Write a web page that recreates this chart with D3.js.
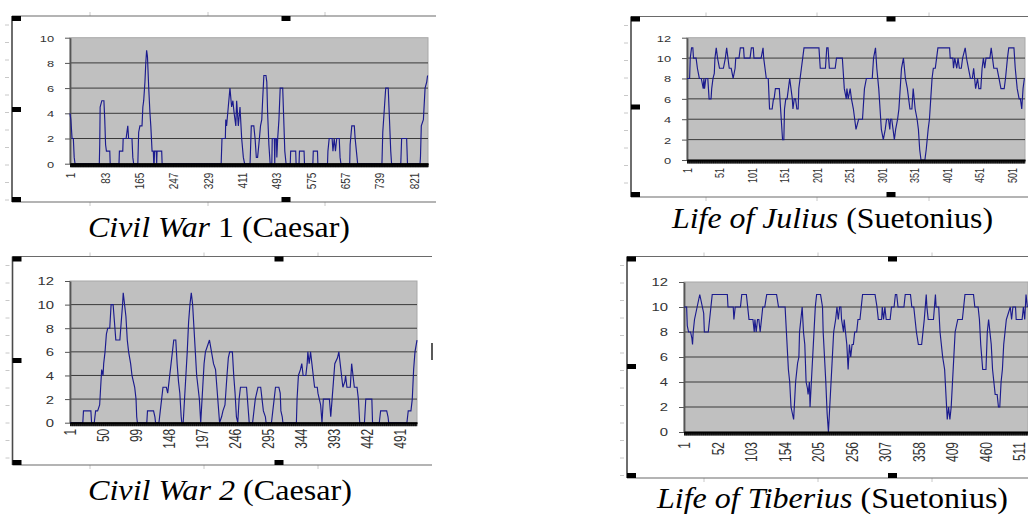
<html>
<head><script src="https://d3js.org/d3.v7.min.js"></script></head>
<body style="margin:0">
<script>
// ---- data (x = passage index, y = value) ----
var civilWar1X = [1,3,6,9,11,13,71,72,73,77,82,84,86,88,96,97,118,119,127,128,135,137,139,141,149,151,153,
  163,165,168,173,175,177,180,182,184,186,189,192,194,197,200,201,202,203,207,208,209,220,221,
  362,364,372,373,375,379,383,387,390,393,397,399,403,407,411,415,418,
  431,434,440,443,446,449,452,456,459,461,464,469,471,473,476,479,
  483,484,489,490,491,494,495,497,500,503,509,511,514,517,
  527,528,540,541,548,549,560,561,581,582,592,593,
  616,617,620,627,629,632,635,638,644,646,648,669,670,674,680,682,685,688,
  746,748,752,755,761,764,767,769,791,793,805,807,837,838,840,845,849,853,855];
var civilWar1Y = [4,3.5,2,2,0.5,0,0,1.5,4.5,5,5,3.5,1.5,1,1,0,0,1,1,2,2,2.5,3,2,2,0.5,0,
  0,2.5,3,3,4.5,5,6.5,8,9,8.5,6,4,3,1,1,0,0,1,1,0,1,1,0,
  0,2,2,3.5,3,4.5,6,4.5,5,4,3,5,3,4.5,2,0.5,0,
  0,3,3,2,0.5,0.5,1.5,3,3.5,5,7,7,6.5,4,1.5,0,
  0,2,2,0,2,2,0.5,2,3.5,6,6,4,1,0,
  0,1,1,0,0,1,1,0,0,1,1,0,
  0,1,2,2,1,2,1,2,2,0.5,0,0,1.5,3,3,2,1,0,
  0,2.5,4.5,6,6,3.5,1,0,0,2,2,0,0,0.5,3,3.5,6,6.5,7];
var civilWar1Ticks = [1,83,165,247,329,411,493,575,657,739,821];
var civilWar1YTicks = [0,2,4,6,8,10];

var juliusX = [1,5,6,8,10,11,15,17,20,23,26,27,28,30,33,34,35,38,39,41,43,44,46,48,51,57,60,62,64,66,69,72,75,76,
  81,83,88,89,98,100,103,104,115,118,119,121,123,126,128,132,134,135,137,143,144,146,148,150,151,153,155,157,159,
  161,163,164,166,168,170,172,173,175,177,179,181,204,206,214,216,218,220,229,231,240,241,243,246,247,249,252,254,
  257,259,261,263,265,271,273,274,277,286,288,291,293,296,298,300,303,306,308,311,313,314,316,318,320,322,325,327,
  329,331,334,337,340,342,344,347,349,352,355,357,359,361,367,369,372,374,376,378,380,383,385,387,405,406,410,411,
  413,416,418,420,423,425,429,431,434,437,440,442,445,448,450,453,455,457,459,461,467,469,471,473,478,481,484,489,
  491,494,496,504,506,509,512,514,516,518,520];
var juliusY = [8,8,10,11,11,10,10,9,8,8,7,8,7,8,8,7,6,6,7,8,8.5,10,11,10,9,9,10,11,10,9,9,8,9,10,
  10,11,11,10,10,11,11,10,10,11,10,9,8,8,5,5,6,6,7,7,6,4,2,2,5,6,6,7,8,
  7,6,5,6,6,5,5,7,8,9,10,11,11,9,9,11,11,9,9,10,10,9,7,6,7,6,7,6,
  5,4,3,3.5,4,4,6,7,8,8,10,11,9,7,5,3,2,3,4,4,3,4,4,3,2,3,4,5,
  7,9,10,8,7,6,5,5,7,5,4,3,1,0,0,1,3,4,6,8,9,9,10,11,11,10,10,9,
  10,9,10,9,9,10,11,10,9,8,8,9,7,8,7,7,9,10,9,10,10,11,10,9,9,8,7,7,
  8,10,11,11,9,7,6,6,5,7,8];
var juliusTicks = [1,51,101,151,201,251,301,351,401,451,501];
var juliusYTicks = [0,2,4,6,8,10,12];

var civilWar2X = [1,20,21,32,33,37,39,42,45,46,48,50,51,53,55,57,60,62,65,67,69,75,77,79,80,82,84,86,88,91,93,95,97,99,100,101,
  115,116,125,127,128,133,135,137,139,144,146,148,151,153,155,158,160,162,164,166,167,169,171,173,175,177,179,181,183,
  185,187,189,191,193,195,196,198,200,202,205,208,211,214,217,219,221,223,226,228,231,234,236,238,242,244,246,248,250,
  252,254,263,265,267,272,274,276,278,280,284,286,288,291,292,300,302,304,306,311,313,314,316,317,
  337,338,340,343,345,347,351,353,354,356,358,360,362,364,368,369,371,373,375,377,386,388,390,392,394,398,400,402,404,
  406,409,410,412,417,419,421,423,427,429,431,438,440,449,450,460,462,471,473,474,501,503,507,509,511,513,516];
var civilWar2Y = [0,0,1,1,0,0,1,1,1.5,2.5,4.5,4,5,6,7.5,8,8,10,10,8.5,7,7,8.5,10,11,10,9,7,6,5,4,3.5,3,2,0.5,0,
  0,1,1,0.5,0,0,1,2,3,3,2.5,3.5,5,6,7,7,5,3.5,2.5,0.5,0,0,2,4,6,8.5,10,11,10,
  8,6,4,3,2,0,1,3,5,6,6.5,7,6,5,4.5,3,1.5,0,0.5,1,1.5,4,5.5,6,6,4,2.5,0.5,0,
  2,3,3,1.5,0,0,1,2,2.5,3,3,2,1,0.5,0,0,1,2,3,3,2.5,1,0.5,0,
  0,2,4,4.5,5,4,4,5,6,5,6,5,4,3,3,2.5,2,1.5,0,2,2,0.5,2,3.5,5,5.5,6,5,4,
  3,3.5,4,3,3,5,4,3,3,2,0,0,2,2,0,0,1,1,0.5,0,0,1,1,2,4.5,6,7];
var civilWar2Ticks = [1,50,99,148,197,246,295,344,393,442,491];
var civilWar2YTicks = [0,2,4,6,8,10,12];

var tiberiusX = [1,5,6,8,11,13,14,15,17,19,21,23,25,27,29,31,32,38,40,42,44,67,68,76,77,79,87,89,96,98,100,106,108,109,111,
  113,115,117,119,121,124,127,142,145,155,156,158,160,162,164,166,168,169,171,174,176,177,179,181,183,185,187,189,190,
  192,193,195,197,199,201,203,209,212,213,215,217,219,221,223,225,227,229,232,234,236,238,240,241,244,245,247,249,251,
  253,255,257,259,261,264,266,269,271,273,292,295,297,302,303,305,307,309,315,317,321,323,325,327,336,338,346,348,351,
  353,355,358,363,365,367,370,371,373,381,384,385,389,391,393,395,398,400,402,404,406,408,410,412,414,416,418,425,427,
  429,442,444,449,451,453,456,461,463,465,467,469,471,473,475,478,480,482,484,486,488,490,492,498,500,502,506,507,516,
  518,520,522,524];
var tiberiusY = [10,10,8.5,8,8,7.5,7,8,9,9.5,10,10.5,11,10.5,10,9.5,8,8,9,10,11,11,10,10,9,10,10,11,11,10,9,9,8,9,8,
  9,9,8,9,10,10,11,11,10,10,9,7,5,4,2,1.5,1,2,4,5.5,6,8,9,10,8,7,4,3.5,3,
  4,2,4,6,8,10,11,11,10,8,6,4,1.5,0,2,4,6,8,9,10,9,10,10,9,8,9,8,7,5,
  7,6,7,7,8,8,9,9,10,11,11,10,9,9,10,9,10,9,9,10,10,11,11,10,10,11,11,10,10,
  9,8,7,7,8,9,11,10,9,9,11,10,10,8,7,6,5,3,1,2,1,2,4,6,8,8.5,9,9,10,
  11,11,10,10,9,7,5,5,8,9,8,7,5,4,3,3,2,2,4,5,7,8,9,10,9,10,10,9,9,
  10,9,11,10];
var tiberiusTicks = [1,52,103,154,205,256,307,358,409,460,511];
var tiberiusYTicks = [0,2,4,6,8,10,12];

// ---- panel layout ----
var panels = [
  { xs: civilWar1X, ys: civilWar1Y, ticks: civilWar1Ticks, yTicks: civilWar1YTicks, n: 856,
    left: 70, right: 428, top: 37.7, bottom: 163.7, xFont: 10, yFont: 9.5, xOff: 9,
    frame: { x: 12, top: 16, bottom: 202, right: 436, midX: 286, midY: 109.5 },
    grid: [90, 208, 325],
    caption: { cx: 219, y: 236.5, w: 262, it: 'Civil War', rest: ' 1 (Caesar)' } },
  { xs: juliusX, ys: juliusY, ticks: juliusTicks, yTicks: juliusYTicks, n: 521,
    left: 687, right: 1025, top: 37.7, bottom: 160, xFont: 9, yFont: 9.5, xOff: 8,
    frame: { x: 631, top: 16.5, bottom: 197, right: 1028, midX: 891, midY: 107 },
    grid: [706, 817, 929],
    caption: { cx: 832.5, y: 227.5, w: 321, it: 'Life of Julius', rest: ' (Suetonius)' } },
  { xs: civilWar2X, ys: civilWar2Y, ticks: civilWar2Ticks, yTicks: civilWar2YTicks, n: 516,
    left: 70, right: 417, top: 281, bottom: 422.7, xFont: 12, yFont: 11, xOff: 6,
    frame: { x: 12.5, top: 256.5, bottom: 465, right: 432, midX: 279, midY: 360.5 },
    grid: [90, 204, 318],
    caption: { cx: 220, y: 500, w: 264, it: 'Civil War 2', rest: ' (Caesar)' } },
  { xs: tiberiusX, ys: tiberiusY, ticks: tiberiusTicks, yTicks: tiberiusYTicks, n: 525,
    left: 684, right: 1028, top: 282, bottom: 432, xFont: 12, yFont: 11, xOff: 10,
    frame: { x: 627, top: 256.5, bottom: 478, right: 1028, midX: 892.5, midY: 366.5 },
    grid: [704, 818, 932],
    caption: { cx: 832.5, y: 508, w: 351, it: 'Life of Tiberius', rest: ' (Suetonius)' } }
];

var svg = d3.select('body')
  .append('svg')
  .attr('width', 1028)
  .attr('height', 517);

svg.append('rect').attr('width', 1028).attr('height', 517).attr('fill', '#fff');

panels.forEach(function (p) {
  var g = svg.append('g');
  var f = p.frame;
  var yMax = d3.max(p.yTicks);

  var x = d3.scaleLinear().domain([1, p.n]).range([p.left, p.right]);
  var y = d3.scaleLinear().domain([0, yMax]).range([p.bottom, p.top]);

  // faint page grid marks
  p.grid.forEach(function (gx) {
    g.append('line').attr('x1', gx).attr('x2', gx).attr('y1', f.top - 4).attr('y2', f.top)
      .attr('stroke', '#c8c8c8');
    g.append('line').attr('x1', gx).attr('x2', gx).attr('y1', f.bottom).attr('y2', f.bottom + 4)
      .attr('stroke', '#c8c8c8');
  });
  d3.range(f.top + 9, f.bottom, 17.5).forEach(function (gy) {
    g.append('line').attr('x1', f.x - 7).attr('x2', f.x - 3).attr('y1', gy).attr('y2', gy)
      .attr('stroke', '#c8c8c8');
  });

  // object frame
  g.append('line').attr('x1', f.x).attr('x2', f.right).attr('y1', f.top).attr('y2', f.top)
    .attr('stroke', '#6a6a6a').attr('stroke-width', 1.2);
  g.append('line').attr('x1', f.x).attr('x2', f.right).attr('y1', f.bottom).attr('y2', f.bottom)
    .attr('stroke', '#6a6a6a').attr('stroke-width', 1.2);
  g.append('line').attr('x1', f.x).attr('x2', f.x).attr('y1', f.top).attr('y2', f.bottom)
    .attr('stroke', '#4a4a4a').attr('stroke-width', 1.6);

  // plot area
  g.append('rect')
    .attr('x', p.left).attr('y', p.top)
    .attr('width', p.right - p.left).attr('height', p.bottom - p.top)
    .attr('fill', '#c0c0c0')
    .attr('stroke', '#a8a8a8');

  // gridlines
  g.selectAll('.grid')
    .data(p.yTicks.filter(function (d) { return d > 0 && d < yMax; }))
    .enter()
    .append('line')
    .attr('x1', p.left).attr('x2', p.right)
    .attr('y1', function (d) { return y(d); })
    .attr('y2', function (d) { return y(d); })
    .attr('stroke', '#3a3a3a')
    .attr('stroke-width', 1);

  // y axis
  var yAxis = g.append('g')
    .attr('transform', 'translate(' + p.left + ',0)')
    .call(d3.axisLeft(y).tickValues(p.yTicks).tickSize(5).tickSizeOuter(0));
  yAxis.attr('font-family', 'Liberation Sans').attr('font-size', p.yFont);
  yAxis.select('.domain').attr('stroke', '#555').attr('stroke-width', 1.8);
  yAxis.selectAll('.tick line').attr('stroke', '#555');
  yAxis.selectAll('.tick text')
    .attr('fill', '#333')
    .attr('x', 0)
    .attr('dy', '0.36em')
    .attr('text-anchor', 'end')
    .attr('transform', 'translate(-16,0) scale(1.35,1)');

  // series
  var pts = p.xs.map(function (d, i) { return [d, p.ys[i]]; });
  g.append('path')
    .datum(pts)
    .attr('fill', 'none')
    .attr('stroke', '#1b1b8e')
    .attr('stroke-width', 1.15)
    .attr('d', d3.line()
      .x(function (d) { return x(d[0]); })
      .y(function (d) { return y(d[1]); }));

  // category axis: one tick per passage gives the thick black band
  var xAxis = g.append('g')
    .attr('transform', 'translate(0,' + p.bottom + ')')
    .call(d3.axisBottom(x).tickValues(d3.range(1, p.n)).tickSize(3.5).tickSizeOuter(0).tickFormat(''));
  xAxis.select('.domain').attr('stroke', '#000').attr('stroke-width', 2);
  xAxis.selectAll('.tick line').attr('stroke', '#000').attr('stroke-width', 0.9);

  var xLabels = g.append('g')
    .attr('transform', 'translate(0,' + p.bottom + ')')
    .call(d3.axisBottom(x).tickValues(p.ticks).tickSize(0).tickSizeOuter(0));
  xLabels.attr('font-family', 'Liberation Sans').attr('font-size', p.xFont);
  xLabels.select('.domain').remove();
  xLabels.selectAll('.tick text')
    .attr('fill', '#333')
    .attr('x', 0)
    .attr('y', 0)
    .attr('dy', '0.36em')
    .attr('text-anchor', 'end')
    .attr('transform', 'translate(0,' + p.xOff + ') scale(1.35,1) rotate(-90)');

  // selection handles
  var hw = 9, hh = 5;
  var handles = [
    [f.x, f.top], [f.midX - hw / 2, f.top],
    [f.x, f.midY - hh / 2],
    [f.x, f.bottom - hh], [f.midX - hw / 2, f.bottom - hh]
  ];
  g.selectAll('.handle')
    .data(handles)
    .enter()
    .append('rect')
    .attr('x', function (d) { return d[0]; })
    .attr('y', function (d) { return d[1]; })
    .attr('width', hw)
    .attr('height', hh)
    .attr('fill', '#000');
});

// captions under each chart: title in italics, author upright
panels.forEach(function (p) {
  var cap = svg.append('text')
    .attr('x', p.caption.cx)
    .attr('y', p.caption.y)
    .attr('font-family', 'Liberation Serif')
    .attr('font-size', 30)
    .attr('text-anchor', 'middle')
    .attr('textLength', p.caption.w)
    .attr('lengthAdjust', 'spacingAndGlyphs');
  cap.append('tspan').attr('font-style', 'italic').text(p.caption.it);
  cap.append('tspan').text(p.caption.rest);
});

// text cursor next to the second chart
svg.append('line')
  .attr('x1', 432).attr('x2', 432).attr('y1', 343).attr('y2', 360)
  .attr('stroke', '#000').attr('stroke-width', 1.3);
</script>
</body>
</html>
